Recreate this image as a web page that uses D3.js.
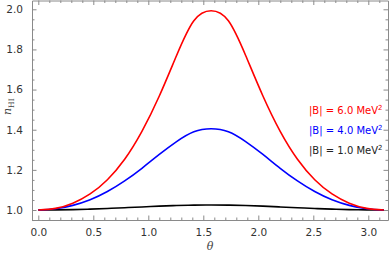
<!DOCTYPE html>
<html>
<head>
<meta charset="utf-8">
<script src="https://cdn.jsdelivr.net/npm/d3@7"></script>
<style>
  body { margin: 0; background: #fff; }
  .axis text { font-family: "DejaVu Sans", sans-serif; font-size: 10.5px; fill: #333; }
  .axis path, .axis line { stroke: #8a8a8a; }
</style>
</head>
<body>
<div id="chart"></div>
<script>
const svgWidth = 390;
const svgHeight = 254;

// theta values (rad)
const theta = [0, 0.157, 0.314, 0.471, 0.628, 0.785, 0.942, 1.100, 1.257, 1.414, 1.571,
  1.728, 1.885, 2.042, 2.199, 2.356, 2.513, 2.670, 2.827, 2.985, 3.142];

// n_HI for each field strength
const nB6 = [1.000, 1.008, 1.034, 1.080, 1.151, 1.253, 1.392, 1.568, 1.770, 1.943, 1.993,
  1.943, 1.770, 1.568, 1.392, 1.253, 1.151, 1.080, 1.034, 1.008, 1.000];
const nB4 = [1.000, 1.006, 1.023, 1.051, 1.092, 1.145, 1.208, 1.277, 1.341, 1.390, 1.405,
  1.390, 1.341, 1.277, 1.208, 1.145, 1.092, 1.051, 1.023, 1.006, 1.000];
const nB1 = [1.000, 1.0005, 1.002, 1.0044, 1.0076, 1.0114, 1.0153, 1.0191, 1.0222, 1.0243, 1.025,
  1.0243, 1.0222, 1.0191, 1.0153, 1.0114, 1.0076, 1.0044, 1.002, 1.0005, 1.000];

const seriesNames = ["6.0", "4.0", "1.0"];
const seriesColors = ["#ff0000", "#0000ff", "#000000"];

const xTicks = [0, 0.5, 1.0, 1.5, 2.0, 2.5, 3.0];
const yTicks = [1.0, 1.2, 1.4, 1.6, 1.8, 2.0];

const plotLeft = 32, plotRight = 388, plotTop = 0.5, plotBottom = 220;

const svg = d3.select("#chart").append("svg")
  .attr("width", svgWidth)
  .attr("height", svgHeight);

const x = d3.scaleLinear().domain([-0.0573, 3.179]).range([plotLeft, plotRight]);
const y = d3.scaleLinear().domain([0.9502, 2.0438]).range([plotBottom, plotTop]);

const xMinor = d3.range(0, 32).map(i => i / 10).filter(v => Math.abs(v * 2 - Math.round(v * 2)) > 1e-6);
const yMinor = d3.range(19, 41).map(i => i / 20).filter(v => Math.abs(v * 5 - Math.round(v * 5)) > 1e-6);

function frameAxis(axisFn, scale, translate, major, minor, withLabels, fmt) {
  const gMinor = svg.append("g").attr("class", "axis").attr("transform", translate)
    .call(axisFn(scale).tickValues(minor).tickSize(-2.5).tickFormat(""));
  gMinor.select(".domain").remove();
  const g = svg.append("g").attr("class", "axis").attr("transform", translate)
    .call(axisFn(scale).tickValues(major).tickSize(-4.5).tickSizeOuter(0)
      .tickPadding(withLabels ? 9 : 0)
      .tickFormat(withLabels ? fmt : ""));
  return g;
}

frameAxis(d3.axisBottom, x, `translate(0,${plotBottom})`, xTicks, xMinor, true, d3.format(".1f"));
frameAxis(d3.axisTop, x, `translate(0,${plotTop})`, xTicks, xMinor, false);
frameAxis(d3.axisLeft, y, `translate(${plotLeft},0)`, yTicks, yMinor, true, d3.format(".1f"));
frameAxis(d3.axisRight, y, `translate(${plotRight},0)`, yTicks, yMinor, false);

// curves
const line = d3.line()
  .x(d => x(d[0]))
  .y(d => y(d[1]))
  .curve(d3.curveNatural);

[nB1, nB4, nB6].forEach((vals, i) => {
  const color = seriesColors[2 - i];
  svg.append("path")
    .datum(theta.map((t, j) => [t, vals[j]]))
    .attr("fill", "none")
    .attr("stroke", color)
    .attr("stroke-width", 1.6)
    .attr("d", line);
});

// legend
seriesNames.forEach((name, i) => {
  const t = svg.append("text")
    .attr("x", 309)
    .attr("y", 114 + i * 20)
    .attr("font-family", "DejaVu Sans, sans-serif")
    .attr("font-size", 10)
    .attr("fill", seriesColors[i] === "#000000" ? "#222" : seriesColors[i]);
  t.append("tspan").text(`|B| = ${name} MeV`);
  t.append("tspan").attr("dy", -4).attr("font-size", 7).text("2");
});

// axis labels
svg.append("text")
  .attr("x", 210)
  .attr("y", 250)
  .attr("text-anchor", "middle")
  .attr("font-family", "DejaVu Serif, serif")
  .attr("font-style", "italic")
  .attr("font-size", 11)
  .attr("fill", "#444")
  .text("θ");

const yl = svg.append("text")
  .attr("transform", "translate(11,115) rotate(-90)")
  .attr("font-family", "DejaVu Serif, serif")
  .attr("font-size", 11)
  .attr("fill", "#444");
yl.append("tspan").attr("font-style", "italic").text("n");
yl.append("tspan").attr("dy", 2.5).attr("font-size", 7.5).text("HI");
</script>
</body>
</html>
